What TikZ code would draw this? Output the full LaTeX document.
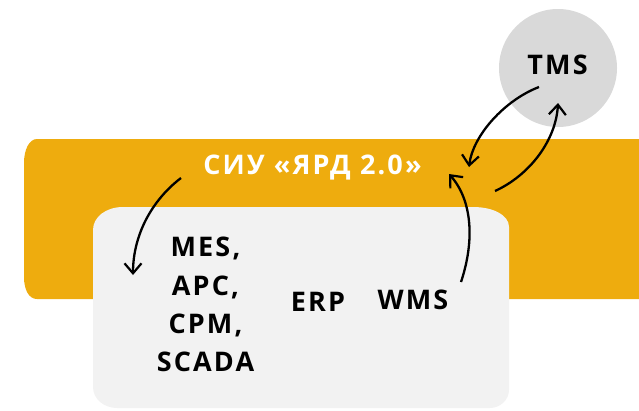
\documentclass[tikz,border=0pt]{standalone}
\usepackage{fontspec}
\setmainfont{Open Sans}[LetterSpace=8]
\usetikzlibrary{arrows.meta}
\definecolor{bandorange}{RGB}{238,172,14}
\definecolor{boxgray}{RGB}{242,242,242}
\definecolor{circgray}{RGB}{217,217,217}
\tikzset{
  lbl/.style={font=\fontsize{27}{38.3}\selectfont\bfseries, inner sep=0pt, align=center},
  conn/.style={line width=2.3pt, black, -{Straight Barb[length=10pt,width=17pt,line width=2.2pt]}},
}
\begin{document}
\begin{tikzpicture}[x=1pt,y=-1pt]
\useasboundingbox (0,0) rectangle (639,410);
% orange band
\fill[bandorange] (639,139) -- (37,139)
  .. controls (29,139) and (24,150) .. (24,163) -- (24,277)
  .. controls (24,290) and (29,299) .. (37,299) -- (639,299) -- cycle;
% gray box
\fill[boxgray] (123,207) -- (473,207)
  .. controls (493,207) and (509,215) .. (509,227) -- (509,390)
  .. controls (509,400) and (500,408) .. (490,408) -- (117,408)
  .. controls (104,408) and (93,399) .. (93,387) -- (93,230)
  .. controls (93,217) and (106,207) .. (123,207) -- cycle;
% TMS circle
\fill[circgray] (558,68) circle[radius=59];
\node[lbl] (tms) at (557.5,64.5) {TMS};
\node[lbl, text=white] (siu) at (312.5,167.5) {СИУ «ЯРД 2.0»};
\node[lbl] (mes) at (205.5,304.5) {MES,\\APC,\\CPM,\\SCADA};
\node[lbl] (erp) at (318,302) {ERP};
\node[lbl] (wms) at (413,300) {WMS};
% connectors
\coordinate (a1s) at (181,178);
\coordinate (a1e) at (133,275);
\coordinate (a2s) at (461,282);
\coordinate (a2e) at (449,174);
\coordinate (a3s) at (539,87);
\coordinate (a3e) at (469,167);
\coordinate (a4s) at (495,191);
\coordinate (a4e) at (558,103);
\draw[conn] (a1s) .. controls (152,200) and (133,235) .. (a1e);
\draw[conn] (a2s) .. controls (475,240) and (472,200) .. (a2e);
\draw[conn] (a3s) .. controls (505,100) and (473,135) .. (a3e);
\draw[conn] (a4s) .. controls (530,175) and (556,140) .. (a4e);
\end{tikzpicture}
\end{document}
